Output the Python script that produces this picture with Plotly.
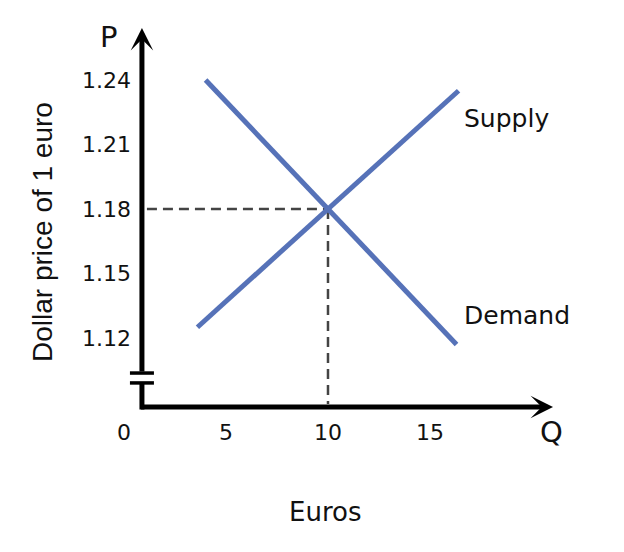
import plotly.graph_objects as go

# ---- data ----
supply_q = [3.6, 16.4]
supply_p = [1.125, 1.235]
demand_q = [4.0, 16.3]
demand_p = [1.24, 1.117]
eq_q = 10
eq_p = 1.18
x_ticks = [0, 5, 10, 15]
y_ticks = [1.12, 1.15, 1.18, 1.21, 1.24]
y_tick_text = ["1.12", "1.15", "1.18", "1.21", "1.24"]

# ---- layout constants ----
OFF = 8                      # page body margin
W, H = 624, 552
PLOT_W, PLOT_H = 480, 400
L, T = 100 - OFF, 20 - OFF
R, B = W - L - PLOT_W, H - T - PLOT_H
X_RANGE = [-1.176, 22.353]
Y_RANGE = [1.08186, 1.26791]
AX_X = 0.88          # vertical axis position (data x)
AX_Y = 1.0879        # horizontal axis position (data y)
BRK_LO, BRK_HI = 1.0991, 1.1037
LINE_BLUE = "#5672B8"
FONT_MAIN = "DejaVu Sans"
INK = "#111111"

px_x = (X_RANGE[1] - X_RANGE[0]) / PLOT_W   # data units per px
px_y = (Y_RANGE[1] - Y_RANGE[0]) / PLOT_H


def paper_x(px):
    return (px - OFF - L) / PLOT_W


def paper_y(py):
    return 1 - (py - OFF - T) / PLOT_H


fig = go.Figure()

# dashed equilibrium guides
fig.add_trace(go.Scatter(x=[AX_X + 5 * px_x, eq_q], y=[eq_p, eq_p], mode="lines",
                         line=dict(color="#444444", width=2.5, dash="10px,6px"),
                         hoverinfo="skip", showlegend=False))
fig.add_trace(go.Scatter(x=[eq_q, eq_q], y=[eq_p, AX_Y + 3 * px_y], mode="lines",
                         line=dict(color="#444444", width=2.5, dash="10px,6px"),
                         hoverinfo="skip", showlegend=False))
# supply and demand
fig.add_trace(go.Scatter(x=supply_q, y=supply_p, mode="lines", name="Supply",
                         line=dict(color=LINE_BLUE, width=5), showlegend=False))
fig.add_trace(go.Scatter(x=demand_q, y=demand_p, mode="lines", name="Demand",
                         line=dict(color=LINE_BLUE, width=5), showlegend=False))

shapes = [
    dict(type="line", xref="x", yref="y", x0=AX_X, x1=AX_X,
         y0=AX_Y - 2.5 * px_y, y1=BRK_LO, line=dict(color="black", width=5)),
    dict(type="line", xref="x", yref="y", x0=AX_X - 12 * px_x, x1=AX_X + 12 * px_x,
         y0=BRK_LO, y1=BRK_LO, line=dict(color="black", width=3.5)),
    dict(type="line", xref="x", yref="y", x0=AX_X - 12 * px_x, x1=AX_X + 12 * px_x,
         y0=BRK_HI, y1=BRK_HI, line=dict(color="black", width=3.5)),
]

annotations = [
    dict(x=AX_X, y=1.2642, ax=AX_X, ay=BRK_HI, xref="x", yref="y", axref="x", ayref="y",
         text="", showarrow=True, arrowhead=3, arrowsize=0.75, arrowwidth=5, arrowcolor="black"),
    dict(x=21.03, y=AX_Y, ax=AX_X - 2.5 * px_x, ay=AX_Y, xref="x", yref="y", axref="x", ayref="y",
         text="", showarrow=True, arrowhead=3, arrowsize=0.75, arrowwidth=5, arrowcolor="black"),
    dict(x=supply_q[1], y=supply_p[1], xref="x", yref="y", text="Supply", showarrow=False,
         xanchor="left", yanchor="middle", xshift=3, yshift=-28,
         font=dict(family=FONT_MAIN, size=25, color=INK)),
    dict(x=demand_q[1], y=demand_p[1], xref="x", yref="y", text="Demand", showarrow=False,
         xanchor="left", yanchor="middle", xshift=5, yshift=29,
         font=dict(family=FONT_MAIN, size=25, color=INK)),
    dict(x=AX_X, y=1.2642, xref="x", yref="y", text="P", showarrow=False,
         xanchor="right", yanchor="middle", xshift=-22, yshift=-9,
         font=dict(family=FONT_MAIN, size=29, color=INK)),
    dict(x=21.03, y=AX_Y, xref="x", yref="y", text="Q", showarrow=False,
         xanchor="center", yanchor="middle", xshift=-2, yshift=-25,
         font=dict(family=FONT_MAIN, size=29, color=INK)),
    dict(x=paper_x(324.5), y=paper_y(512), xref="paper", yref="paper",
         text="Euros", showarrow=False, xanchor="center", yanchor="middle",
         font=dict(family=FONT_MAIN, size=26, color=INK)),
    dict(x=paper_x(42), y=paper_y(232), xref="paper", yref="paper",
         text="Dollar price of 1 euro", showarrow=False, textangle=-90,
         xanchor="center", yanchor="middle",
         font=dict(family="Liberation Sans, Arial", size=28, color=INK)),
]

fig.update_layout(
    width=W, height=H,
    margin=dict(l=L, r=R, t=T, b=B),
    paper_bgcolor="white", plot_bgcolor="white",
    shapes=shapes, annotations=annotations,
    xaxis=dict(range=X_RANGE, tickvals=x_ticks, ticktext=[str(v) for v in x_ticks],
               showgrid=False, zeroline=False, showline=False, ticks="",
               anchor="free", position=13 / PLOT_H,
               ticklabelstandoff=10,
               tickfont=dict(family=FONT_MAIN, size=22, color=INK), fixedrange=True),
    yaxis=dict(range=Y_RANGE, tickvals=y_ticks, ticktext=y_tick_text,
               showgrid=False, zeroline=False, showline=False, ticks="",
               anchor="free", position=42 / PLOT_W,
               ticklabelstandoff=11,
               tickfont=dict(family=FONT_MAIN, size=22, color=INK), fixedrange=True),
    showlegend=False,
)

fig.write_html("out.html")
